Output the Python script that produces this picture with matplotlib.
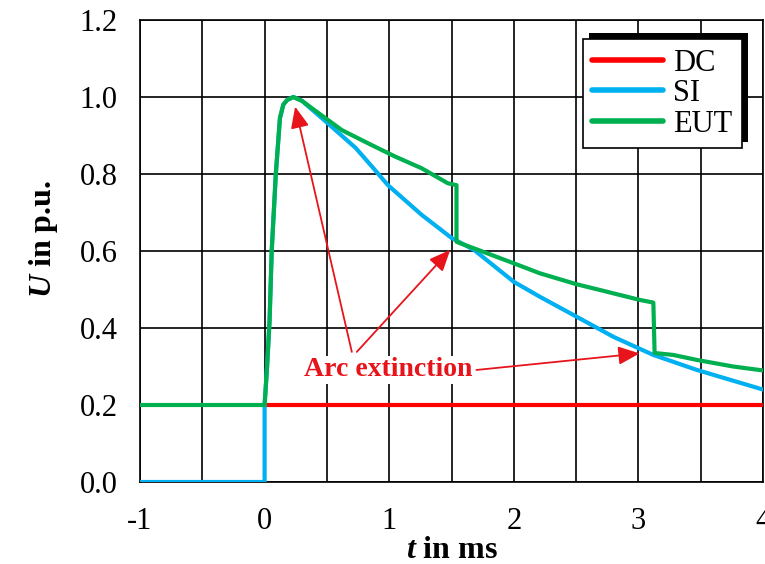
import matplotlib
matplotlib.use("Agg")
import matplotlib.pyplot as plt
from matplotlib.patches import Rectangle
from matplotlib.ticker import MultipleLocator

plt.rcParams['font.family'] = ['Liberation Serif', 'DejaVu Serif']
plt.rcParams['mathtext.fontset'] = 'custom'
plt.rcParams['mathtext.it'] = 'Liberation Serif:italic:bold'
plt.rcParams['mathtext.rm'] = 'Liberation Serif:bold'

# ---- data ----
t_dc = [0.0, 4.0]
v_dc = [0.2, 0.2]

t_si = [-1.0, 0.0, 0.0, 0.02, 0.04, 0.057, 0.09, 0.123, 0.15, 0.18, 0.23, 0.30, 0.46, 0.60,
        0.73, 0.86, 0.99, 1.26, 1.50, 1.68, 2.00, 2.21, 2.50, 2.80, 3.12, 3.47, 3.97, 4.0]
v_si = [0.0, 0.0, 0.2, 0.30, 0.42, 0.60, 0.80, 0.945, 0.98, 0.992, 1.0, 0.99, 0.945, 0.905,
        0.868, 0.820, 0.771, 0.694, 0.634, 0.603, 0.520, 0.481, 0.430, 0.377, 0.330, 0.291, 0.243, 0.240]

t_eut = [-1.0, 0.0, 0.02, 0.04, 0.057, 0.09, 0.123, 0.15, 0.18, 0.23, 0.30, 0.40, 0.62,
         0.86, 1.05, 1.26, 1.47, 1.54, 1.54, 1.57, 1.68, 2.00, 2.21, 2.50, 2.75, 3.01,
         3.12, 3.13, 3.28, 3.47, 3.76, 3.97, 4.0]
v_eut = [0.2, 0.2, 0.30, 0.42, 0.60, 0.80, 0.945, 0.98, 0.992, 1.0, 0.99, 0.966, 0.914,
         0.875, 0.845, 0.815, 0.776, 0.771, 0.624, 0.620, 0.607, 0.568, 0.542, 0.514, 0.494, 0.473,
         0.466, 0.335, 0.330, 0.317, 0.300, 0.291, 0.290]

series_labels = ['DC', 'SI', 'EUT']
series_colors = ['#FF0000', '#00B0F0', '#00B050']

x_ticks = [-1, 0, 1, 2, 3, 4]
y_ticks = [0.0, 0.2, 0.4, 0.6, 0.8, 1.0, 1.2]

annot_text = 'Arc extinction'
annot_xy = (0.99, 0.291)
arrow_targets = [(0.245, 0.975), (1.49, 0.603), (3.01, 0.334)]
arrow_starts = [(0.70, 0.338), (0.74, 0.338), (1.70, 0.291)]

# ---- figure ----
fig = plt.figure(figsize=(7.65, 5.64), dpi=100)
ax = fig.add_axes([140/765, 1-482/564, 623/765, 462/564])

lw = 3.0
ax.plot(t_dc, v_dc, color=series_colors[0], lw=lw, label=series_labels[0], zorder=3, solid_capstyle='butt')
ax.plot(t_si, v_si, color=series_colors[1], lw=lw, label=series_labels[1], zorder=4, solid_joinstyle='round')
ax.plot(t_eut, v_eut, color=series_colors[2], lw=lw, label=series_labels[2], zorder=5, solid_joinstyle='round')

ax.set_xlim(-1, 4)
ax.set_ylim(0, 1.2)
ax.set_xticks(x_ticks)
ax.set_xticklabels([str(v) for v in x_ticks])
ax.set_yticks(y_ticks)
ax.set_yticklabels([f'{v:.1f}' for v in y_ticks])
ax.xaxis.set_minor_locator(MultipleLocator(0.5))
ax.grid(True, which='both', color='black', lw=1.2, zorder=1)
ax.set_axisbelow(True)
ax.tick_params(which='both', length=0, labelsize=22)
ax.tick_params(axis='x', pad=18)
ax.tick_params(axis='y', pad=16)
for s in ax.spines.values():
    s.set_color('black')
    s.set_linewidth(1.2)

ax.set_xlabel(r'$t$ in ms', fontsize=23, fontweight='bold', labelpad=0)
ax.set_ylabel(r'$U$ in p.u.', fontsize=23, fontweight='bold')
ax.yaxis.set_label_coords(-0.129, 0.525)

# annotation
red = '#E8141B'
ax.text(annot_xy[0], annot_xy[1], annot_text, color=red, fontsize=20, fontweight='bold',
        ha='center', va='center', zorder=6,
        bbox=dict(facecolor='white', edgecolor='none', pad=1.0))
for (sx, sy), (tx, ty) in zip(arrow_starts, arrow_targets):
    ax.annotate('', xy=(tx, ty), xytext=(sx, sy), zorder=7,
                arrowprops=dict(arrowstyle='-|>,head_length=0.65,head_width=0.28',
                                color=red, lw=1.3, mutation_scale=20,
                                shrinkA=0, shrinkB=0))

leg = ax.legend(loc='upper left', bbox_to_anchor=(0.7116, 0.958), fontsize=22,
                frameon=True, fancybox=False, edgecolor='black', framealpha=1,
                handlelength=2.3, handletextpad=0.35, borderpad=0.3, labelspacing=0.05,
                borderaxespad=0)
leg.get_frame().set_linewidth(1.2)
leg.set_zorder(10)
for line in leg.get_lines():
    line.set_linewidth(4)
    line.set_solid_capstyle('round')

fig.canvas.draw()
bb = leg.get_window_extent()
inv = fig.transFigure.inverted()
(x0, y0), (x1, y1) = inv.transform([(bb.x0 + 6, bb.y0 + 6), (bb.x1 + 6, bb.y1 + 6)])
shadow = Rectangle((x0, y0), x1 - x0, y1 - y0, transform=fig.transFigure,
                   facecolor='black', edgecolor='none', zorder=9)
ax.add_artist(shadow)
shadow.set_clip_on(False)

fig.savefig('out.png', dpi=100)
